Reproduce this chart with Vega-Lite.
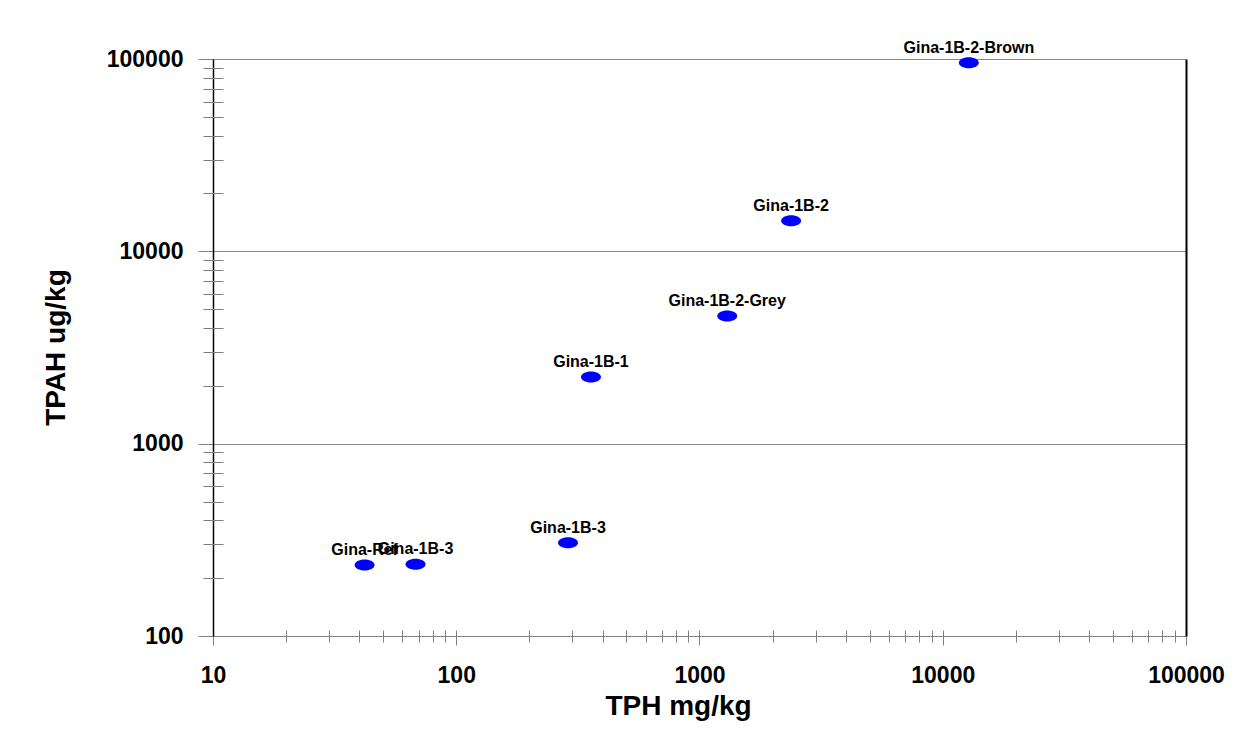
{
  "$schema": "https://vega.github.io/schema/vega-lite/v6.json",
  "width": 973,
  "height": 577,
  "autosize": "none",
  "padding": {"left": 213, "top": 59, "right": 65, "bottom": 100},
  "background": "white",
  "config": {"view": {"stroke": null}, "font": "Liberation Sans"},
  "data": {
    "values": [
      {"sample": "Gina-Ref", "TPH": 42, "TPAH": 234},
      {"sample": "Gina-1B-3", "TPH": 68, "TPAH": 236},
      {"sample": "Gina-1B-3", "TPH": 288, "TPAH": 305},
      {"sample": "Gina-1B-1", "TPH": 358, "TPAH": 2220},
      {"sample": "Gina-1B-2-Grey", "TPH": 1300, "TPAH": 4610},
      {"sample": "Gina-1B-2", "TPH": 2380, "TPAH": 14400},
      {"sample": "Gina-1B-2-Brown", "TPH": 12800, "TPAH": 95500}
    ]
  },
  "layer": [
    {
      "mark": {
        "type": "point",
        "shape": "M -1 0 C -1 -0.304 -0.552 -0.55 0 -0.55 C 0.552 -0.55 1 -0.304 1 0 C 1 0.304 0.552 0.55 0 0.55 C -0.552 0.55 -1 0.304 -1 0 Z",
        "filled": true,
        "color": "#0000FF",
        "size": 400,
        "opacity": 1,
        "strokeWidth": 0
      },
      "encoding": {
        "x": {
          "field": "TPH", "type": "quantitative",
          "scale": {"type": "log", "domain": [10, 100000], "nice": false},
          "axis": {
            "orient": "bottom", "values": [10, 100, 1000, 10000, 100000], "format": "d",
            "labelFont": "Liberation Sans", "labelFontSize": 23, "labelFontWeight": "bold", "labelColor": "black",
            "labelBaseline": "alphabetic", "labelPadding": 37, "labelOverlap": false, "labelFlush": false,
            "tickSize": 9, "tickColor": "#808080", "domainColor": "#808080", "domainWidth": 1, "grid": false,
            "title": "TPH mg/kg", "titleFont": "Liberation Sans", "titleFontSize": 28, "titleFontWeight": "bold",
            "titleColor": "black", "titleBaseline": "alphabetic", "titleX": 465, "titleY": 78
          }
        },
        "y": {
          "field": "TPAH", "type": "quantitative",
          "scale": {"type": "log", "domain": [100, 100000], "nice": false},
          "axis": {
            "orient": "left", "values": [100, 1000, 10000, 100000], "format": "d",
            "labelFont": "Liberation Sans", "labelFontSize": 23, "labelFontWeight": "bold", "labelColor": "black",
            "labelPadding": 15, "labelOverlap": false, "labelFlush": false, "labelBaseline": "middle",
            "tickSize": 15, "tickColor": "#808080", "domainColor": "black", "domainWidth": 1.5,
            "grid": true, "gridColor": "#8c8c8c", "gridWidth": 1,
            "title": "TPAH ug/kg", "titleFont": "Liberation Sans", "titleFontSize": 28, "titleFontWeight": "bold",
            "titleColor": "black", "titleBaseline": "alphabetic", "titleAngle": -90, "titleX": -149, "titleY": 288
          }
        }
      }
    },
    {
      "mark": {
        "type": "text", "dy": -10, "baseline": "alphabetic", "align": "center",
        "font": "Liberation Sans", "fontSize": 16, "fontWeight": "bold", "color": "black"
      },
      "encoding": {
        "x": {
          "field": "TPH", "type": "quantitative",
          "scale": {"type": "log", "domain": [10, 100000], "nice": false},
          "axis": {
            "orient": "bottom", "offset": -6,
            "values": [20, 30, 40, 50, 60, 70, 80, 90, 100, 200, 300, 400, 500, 600, 700, 800, 900, 1000, 2000, 3000, 4000, 5000, 6000, 7000, 8000, 9000, 10000, 20000, 30000, 40000, 50000, 60000, 70000, 80000, 90000],
            "tickSize": 12, "tickColor": "#808080", "labels": false, "domain": false, "grid": false, "title": null
          }
        },
        "y": {
          "field": "TPAH", "type": "quantitative",
          "scale": {"type": "log", "domain": [100, 100000], "nice": false},
          "axis": {
            "orient": "left", "offset": -10,
            "values": [200, 300, 400, 500, 600, 700, 800, 900, 2000, 3000, 4000, 5000, 6000, 7000, 8000, 9000, 20000, 30000, 40000, 50000, 60000, 70000, 80000, 90000],
            "tickSize": 20, "tickColor": "#808080", "labels": false, "domain": false, "grid": false, "title": null
          }
        },
        "text": {"field": "sample"}
      }
    },
    {
      "mark": {"type": "point", "opacity": 0},
      "encoding": {
        "x": {
          "field": "TPH", "type": "quantitative",
          "scale": {"type": "log", "domain": [10, 100000], "nice": false},
          "axis": null
        },
        "y": {
          "field": "TPAH", "type": "quantitative",
          "scale": {"type": "log", "domain": [100, 100000], "nice": false},
          "axis": {
            "orient": "right", "ticks": false, "labels": false, "grid": false,
            "domainColor": "black", "domainWidth": 2, "title": null
          }
        }
      }
    }
  ],
  "resolve": {"axis": {"x": "independent", "y": "independent"}}
}
